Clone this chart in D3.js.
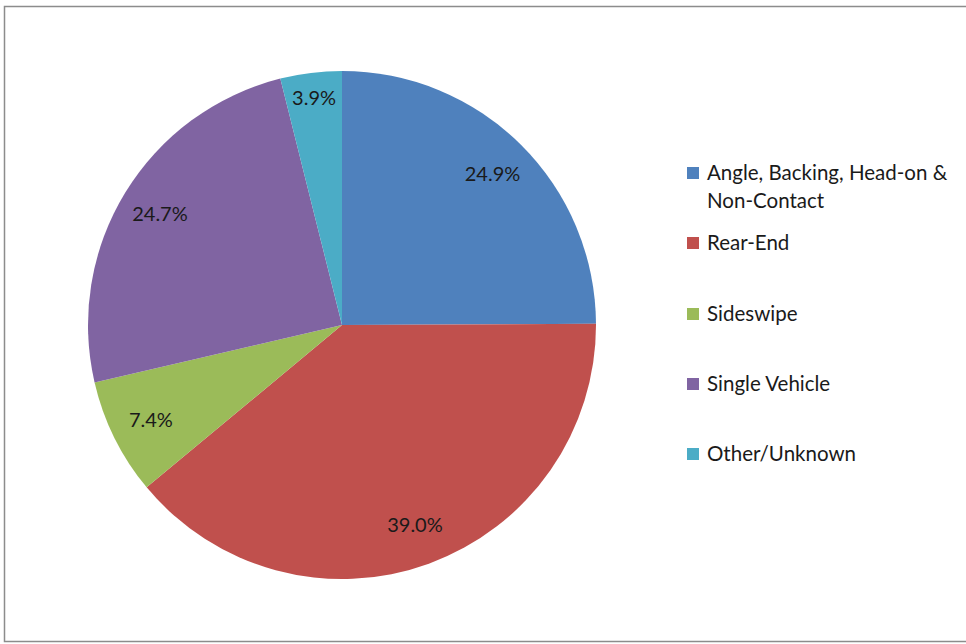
<!DOCTYPE html>
<html>
<head>
<meta charset="utf-8">
<script src="https://cdn.jsdelivr.net/npm/d3@7"></script>
<style>
  body { margin: 0; background: #fff; }
  svg { display: block; }
  text { font-family: Lato, "Open Sans", sans-serif; }
</style>
</head>
<body>
<svg width="966" height="644"></svg>
<script>
var categories = ["Angle, Backing, Head-on & Non-Contact", "Rear-End", "Sideswipe", "Single Vehicle", "Other/Unknown"];
var legendLines = [["Angle, Backing, Head-on &", "Non-Contact"], ["Rear-End"], ["Sideswipe"], ["Single Vehicle"], ["Other/Unknown"]];
var values = [24.9, 39.0, 7.4, 24.7, 3.9];
var colors = ["#4F81BD", "#C0504D", "#9BBB59", "#8064A2", "#4BACC6"];

var svg = d3.select("svg");

// chart frame
svg.append("rect")
  .attr("x", 4.5)
  .attr("y", 6.5)
  .attr("width", 970)
  .attr("height", 635)
  .attr("fill", "#fff")
  .attr("stroke", "#8c8c8c")
  .attr("stroke-width", 1.5);

var cx = 342, cy = 325, radius = 254;

var data = categories.map(function(c, i) {
  return { name: c, value: values[i], color: colors[i] };
});

var pie = d3.pie()
  .sort(null)
  .value(function(d) { return d.value; });

var arc = d3.arc()
  .innerRadius(0)
  .outerRadius(radius);

// narrow slices get their label pushed a bit further out
function labelPos(d) {
  var k = d.data.value < 5 ? 0.9 : 0.84;
  return d3.arc().innerRadius(radius * k).outerRadius(radius * k).centroid(d);
}

var g = svg.append("g")
  .attr("transform", "translate(" + cx + "," + cy + ")");

var arcs = pie(data);

g.selectAll("path")
  .data(arcs)
  .enter().append("path")
  .attr("d", arc)
  .attr("fill", function(d) { return d.data.color; });

g.selectAll("text.pct")
  .data(arcs)
  .enter().append("text")
  .attr("class", "pct")
  .attr("transform", function(d) {
    var c = labelPos(d);
    return "translate(" + c[0] + "," + c[1] + ")";
  })
  .attr("text-anchor", "middle")
  .attr("dy", "0.35em")
  .attr("font-size", 20)
  .attr("fill", "#1a1a1a")
  .text(function(d) { return d.data.value.toFixed(1) + "%"; });

// legend
var legendY = [173, 243, 314, 384, 454];
var legend = svg.append("g")
  .attr("transform", "translate(687,0)");

var items = legend.selectAll("g")
  .data(data)
  .enter().append("g")
  .attr("transform", function(d, i) { return "translate(0," + legendY[i] + ")"; });

items.append("rect")
  .attr("x", 0)
  .attr("y", -6)
  .attr("width", 12)
  .attr("height", 12)
  .attr("fill", function(d) { return d.color; });

items.append("text")
  .attr("x", 20)
  .attr("font-size", 20.5)
  .attr("fill", "#1a1a1a")
  .selectAll("tspan")
  .data(function(d, i) { return legendLines[i]; })
  .enter().append("tspan")
  .attr("x", 20)
  .attr("dy", function(d, j) { return j === 0 ? "0.35em" : "1.36em"; })
  .text(function(d) { return d; });
</script>
</body>
</html>
